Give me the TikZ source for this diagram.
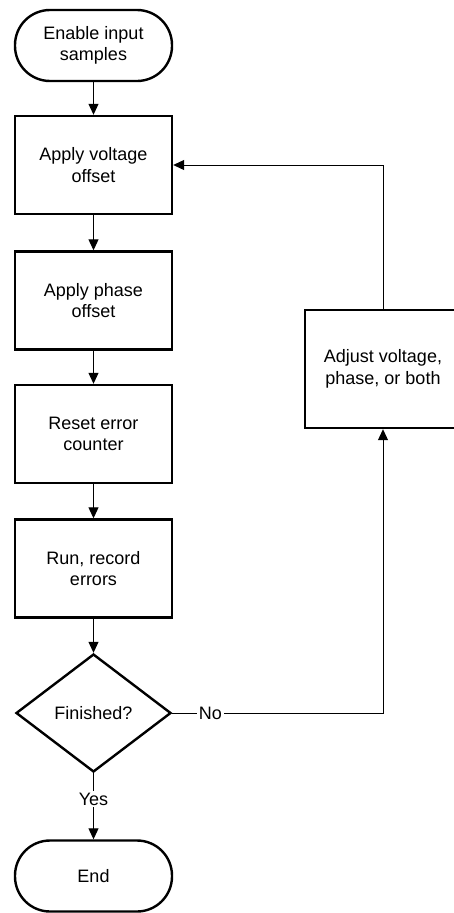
\documentclass[tikz,border=0pt]{standalone}
\usepackage{fontspec}
\setmainfont{Liberation Sans}
\usetikzlibrary{arrows.meta,shapes.geometric}
\begin{document}
\begin{tikzpicture}[x=1pt,y=-1pt,
  txt/.style={font=\fontsize{18}{21.5}\selectfont, text=black},
  box/.style={txt, draw, line width=2.4pt, minimum width=157pt, minimum height=98pt, inner sep=0pt, align=center},
  term/.style={box, rounded corners=35pt, minimum height=71pt},
  dec/.style={txt, draw, diamond, line width=2.4pt, minimum width=155pt, minimum height=118pt, inner sep=0pt, aspect=1.31},
  conn/.style={line width=1pt},
  arr/.style={conn, -{Triangle[length=11pt,width=10pt]}},
  lbl/.style={txt, fill=white, inner sep=1.5pt}
]
\useasboundingbox (0,0) rectangle (454,913);
\clip (0,0) rectangle (454,913);
\node[term] (start) at (93.5,45.5) {Enable input\\samples};
\node[box] (b1) at (93.5,165) {Apply voltage\\offset};
\node[box] (b2) at (93.5,300.5) {Apply phase\\offset};
\node[box] (b3) at (93.5,434) {Reset error\\counter};
\node[box] (b4) at (93.5,568.5) {Run, record\\errors};
\node[dec] (fin) at (93.5,713) {Finished?};
\node[term] (end) at (93.5,876) {End};
\node[box, minimum width=156pt, minimum height=118pt] (adj) at (383,369) {Adjust voltage,\\phase, or both};

\draw[arr] (start) -- (b1);
\draw[arr] (b1) -- (b2);
\draw[arr] (b2) -- (b3);
\draw[arr] (b3) -- (b4);
\draw[arr] (b4) -- (fin);
\draw[arr] (fin.south) -- (end.north);
\draw[arr] (fin.east) -| (adj.south);
\draw[arr] (adj.north) |- (b1.east);
\node[lbl] (no) at (210.5,713) {No};
\node[lbl] (yes) at (93.5,799) {Yes};
\end{tikzpicture}
\end{document}
